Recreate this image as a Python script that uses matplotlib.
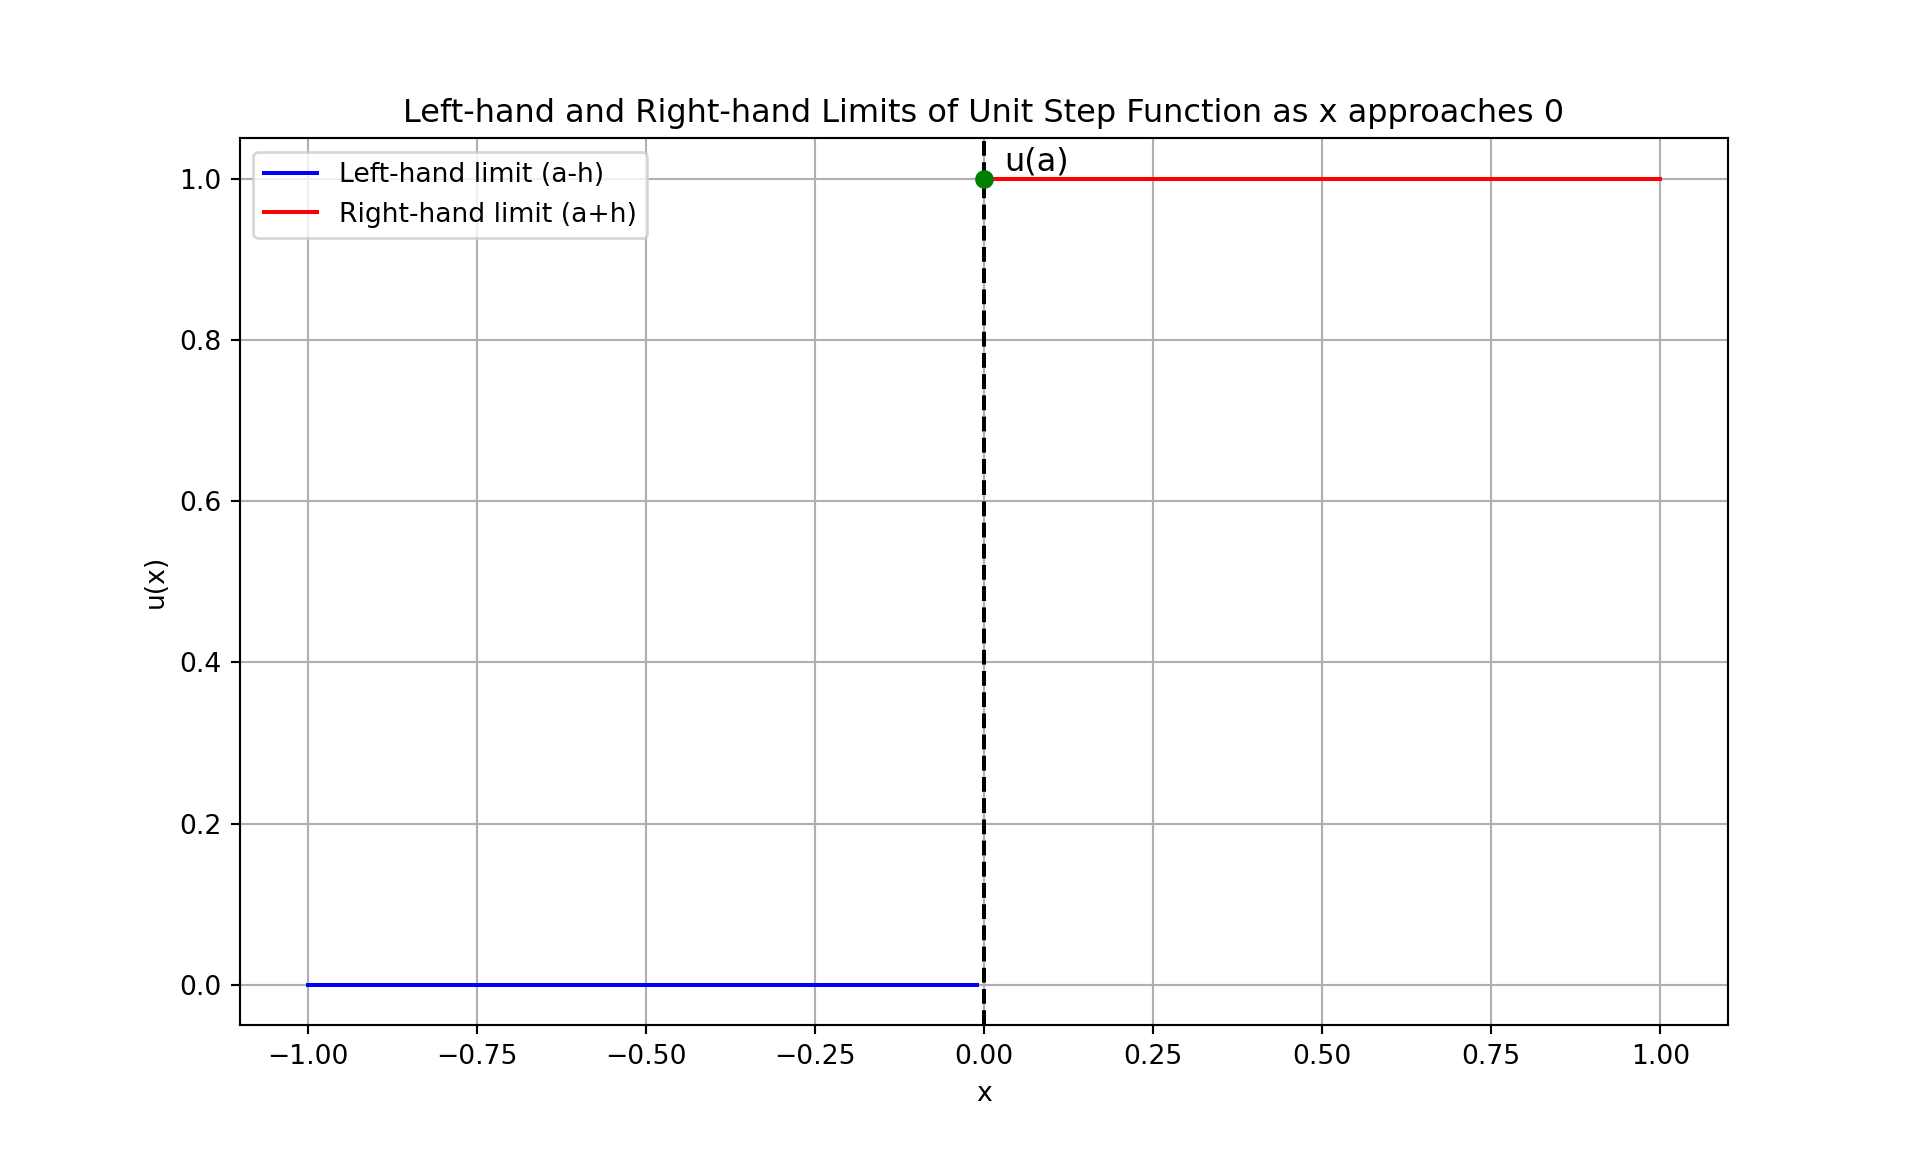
import matplotlib
matplotlib.use("Agg")
import matplotlib.pyplot as plt
import numpy as np

a = 0.0
h = 0.01
left_x = [-1.0, a - h]
left_y = [0.0, 0.0]
right_x = [a + h, 1.0]
right_y = [1.0, 1.0]
u_a = 1.0


def plot_step():
    plt.figure(figsize=(10, 6))
    plt.plot(left_x, left_y, "b", label="Left-hand limit (a-h)")
    plt.plot(right_x, right_y, "r", label="Right-hand limit (a+h)")
    plt.axvline(a, color="k", linestyle="--")
    plt.plot(a, u_a, "go")
    plt.text(a + 0.03, u_a + 0.01, "u(a)", fontsize=12)
    plt.title("Left-hand and Right-hand Limits of Unit Step Function as x approaches 0")
    plt.xlabel("x")
    plt.ylabel("u(x)")
    plt.legend(loc="upper left")
    plt.grid(True)
    plt.savefig("out.png", dpi=192)


plot_step()
